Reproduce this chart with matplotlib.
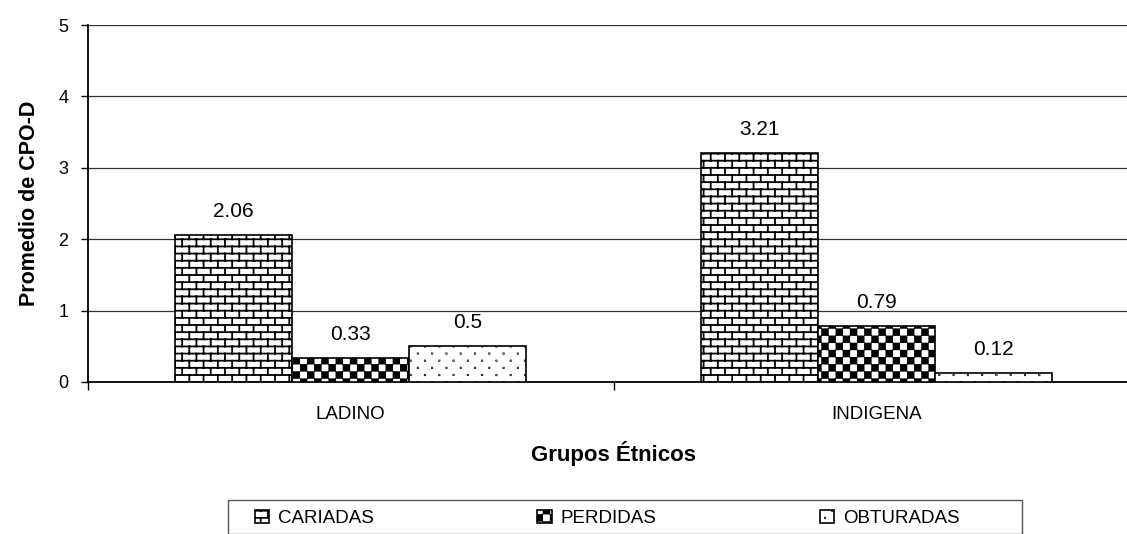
import warnings
import numpy as np
import matplotlib
matplotlib.use("Agg")
import matplotlib.pyplot as plt
import matplotlib.hatch as mhatch
from matplotlib.path import Path
from matplotlib.patches import Rectangle

warnings.filterwarnings("ignore")

# datos
grupos = ["LADINO", "INDIGENA"]
series = ["CARIADAS", "PERDIDAS", "OBTURADAS"]
cariadas = [2.06, 3.21]
perdidas = [0.33, 0.79]
obturadas = [0.5, 0.12]
yticks = [0, 1, 2, 3, 4, 5]


# tramas tipo Excel: ladrillos (b), tablero (c), puntos (d)
class Ladrillos(mhatch.HatchPatternBase):
    def __init__(self, hatch, density):
        self.on = "b" in hatch
        self.rows, self.cols = 14, 7
        self.num_vertices = (self.rows * 2 + (self.rows + 1) * self.cols * 2) if self.on else 0

    def set_vertices_and_codes(self, vertices, codes):
        v = []
        for k in range(self.rows):
            y = (k + 0.5) / self.rows
            v += [(0, y), (1, y)]
        for k in range(-1, self.rows):
            y0 = (k + 0.5) / self.rows
            y1 = (k + 1.5) / self.rows
            off = 0.5 * (k % 2)
            for j in range(self.cols):
                x = (j + off + 0.25) / self.cols
                v += [(x, y0), (x, y1)]
        vertices[:] = np.array(v)
        codes[0::2] = Path.MOVETO
        codes[1::2] = Path.LINETO


class Tablero(mhatch.HatchPatternBase):
    def __init__(self, hatch, density):
        self.on = "c" in hatch
        self.n = 14
        self.num_vertices = (self.n * self.n // 2) * 5 if self.on else 0

    def set_vertices_and_codes(self, vertices, codes):
        s = 0.4 / self.n
        v, c = [], []
        for i in range(self.n):
            for j in range(self.n):
                if (i + j) % 2:
                    continue
                cx, cy = (i + 0.5) / self.n, (j + 0.5) / self.n
                v += [(cx - s, cy - s), (cx + s, cy - s), (cx + s, cy + s), (cx - s, cy + s), (cx - s, cy - s)]
                c += [Path.MOVETO, Path.LINETO, Path.LINETO, Path.LINETO, Path.CLOSEPOLY]
        vertices[:] = np.array(v)
        codes[:] = c


class Puntos(mhatch.HatchPatternBase):
    def __init__(self, hatch, density):
        self.on = "d" in hatch
        self.rows, self.cols = 14, 7
        self.num_vertices = self.rows * self.cols * 5 if self.on else 0

    def set_vertices_and_codes(self, vertices, codes):
        s = 0.0015
        v, c = [], []
        for k in range(self.rows):
            cy = (k + 0.5) / self.rows
            for j in range(self.cols):
                cx = (j + 0.5 * (k % 2) + 0.25) / self.cols
                v += [(cx - s, cy - s), (cx + s, cy - s), (cx + s, cy + s), (cx - s, cy + s), (cx - s, cy - s)]
                c += [Path.MOVETO, Path.LINETO, Path.LINETO, Path.LINETO, Path.CLOSEPOLY]
        vertices[:] = np.array(v)
        codes[:] = c


mhatch._hatch_types.extend([Ladrillos, Tablero, Puntos])

plt.rcParams["font.family"] = ["Liberation Sans", "DejaVu Sans"]
plt.rcParams["hatch.linewidth"] = 1.3
plt.rcParams["hatch.color"] = "black"

W, H = 1127, 534
fig = plt.figure(figsize=(W / 100, H / 100), dpi=100)
ax = fig.add_axes([88 / W, 1 - 382 / H, 1051 / W, 357 / H])

x = np.arange(len(grupos))
w = 0.2226
tramas = ["b", "c", "d"]
valores = [cariadas, perdidas, obturadas]
for i, (nombre, vals) in enumerate(zip(series, valores)):
    barras = ax.bar(x + (i - 1) * w, vals, w, color="white", edgecolor="black",
                    linewidth=1.2, hatch=tramas[i], label=nombre, zorder=3)
    for b, v in zip(barras, vals):
        ax.annotate(f"{v:g}", (b.get_x() + b.get_width() / 2, v),
                    xytext=(0, 13), textcoords="offset points",
                    ha="center", va="baseline", fontsize=15)

ax.set_xlim(-0.5, 1.5)
ax.set_ylim(0, 5)
ax.set_yticks(yticks)
ax.tick_params(axis="y", labelsize=13, length=5, width=1, pad=9)
ax.set_xticks(x)
ax.set_xticklabels(grupos)
ax.tick_params(axis="x", which="major", length=0, labelsize=13.5, pad=17)
ax.set_xticks([-0.5, 0.5, 1.5], minor=True)
ax.tick_params(axis="x", which="minor", length=6, width=1)
ax.yaxis.grid(True, color="#333333", linewidth=0.9, zorder=0)
ax.set_axisbelow(True)
for lado in ["top", "right"]:
    ax.spines[lado].set_visible(False)
ax.spines["left"].set_linewidth(1.3)
ax.spines["bottom"].set_linewidth(1.3)

ax.set_ylabel("Promedio de CPO-D", fontsize=15.5, fontweight="bold", labelpad=13)
ax.set_xlabel("Grupos Étnicos", fontsize=16, fontweight="bold", labelpad=13)

# leyenda: caja recortada abajo como en el original
fig.patches.append(Rectangle((228 / W, 0), (1022 - 228) / W, 1 - 500 / H,
                             transform=fig.transFigure, facecolor="none",
                             edgecolor="#555555", linewidth=1.0, clip_on=False))
leg = fig.legend(loc="upper left", bbox_to_anchor=(255 / W, 1 - 515 / H, (960 - 255) / W, 0.01),
                 mode="expand", ncol=3, fontsize=13.5, frameon=False, handlelength=0.75,
                 handleheight=0.75, handletextpad=0.5, borderpad=0.0, borderaxespad=0.0)

fig.savefig("out.png", dpi=100)
